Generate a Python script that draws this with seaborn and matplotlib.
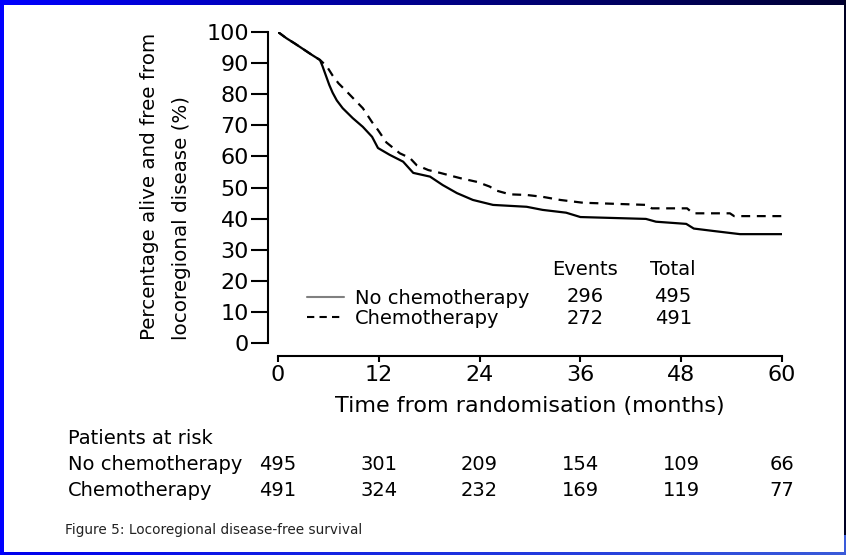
import numpy as np
import pandas as pd
import matplotlib
matplotlib.use("Agg")
import matplotlib.pyplot as plt
import seaborn as sns
from matplotlib.lines import Line2D
from matplotlib.patches import Rectangle
from matplotlib.colors import LinearSegmentedColormap
import matplotlib.transforms as mtransforms

# ---------------- data ----------------
months_no_chemo = [0, 1, 2, 3, 4, 5, 5.3, 5.7, 6.1, 6.5, 7.0, 7.7, 8.9, 10.1, 11.2, 11.9,
                   13.3, 14.9, 16.1, 18.1, 19.6, 21.3, 23.2, 25.6, 29.6, 31.5, 34.3, 36.0,
                   43.8, 45.0, 48.6, 49.5, 51.9, 55.0, 60.0]
surv_no_chemo = [100, 98, 96.3, 94.5, 92.7, 91, 89, 86, 83, 80.5, 78, 75.5, 72.3, 69.5, 66.3, 62.7,
                 60.5, 58.3, 54.7, 53.5, 50.8, 48.2, 46, 44.4, 43.8, 42.8, 41.9, 40.5,
                 39.9, 39, 38.3, 36.8, 36, 35, 35]

months_chemo = [0, 1, 2, 3, 4, 5, 5.8, 6.5, 7.2, 8.2, 9.2, 10.1, 11.2, 11.9, 12.9, 14.5, 15.7,
                16.5, 17.9, 19.3, 20.7, 21.7, 23.7, 25.2, 26.0, 27.6, 29.6, 31.5, 33.6, 36.3,
                43.9, 44.5, 48.7, 49.4, 53.8, 54.3, 60.0]
surv_chemo = [100, 98, 96.3, 94.5, 92.7, 91, 89, 86, 83.5, 80.8, 78, 75.5, 71, 68.5, 64.5, 61, 59.5,
              57.2, 55.6, 54.7, 53.7, 53, 51.8, 50.3, 49, 47.8, 47.6, 47, 46, 45.1,
              44.4, 43.3, 43.3, 41.7, 41.7, 40.8, 40.8]

x_ticks = [0, 12, 24, 36, 48, 60]
y_ticks = [0, 10, 20, 30, 40, 50, 60, 70, 80, 90, 100]

groups = ["No chemotherapy", "Chemotherapy"]
events = [296, 272]
totals = [495, 491]
at_risk_no_chemo = [495, 301, 209, 154, 109, 66]
at_risk_chemo = [491, 324, 232, 169, 119, 77]

# ---------------- style ----------------
sns.set_theme(style="ticks")
plt.rcParams['font.family'] = ['DejaVu Sans']
plt.rcParams['text.color'] = 'black'
plt.rcParams['axes.labelcolor'] = 'black'
plt.rcParams['xtick.color'] = 'black'
plt.rcParams['ytick.color'] = 'black'

W, H = 846, 555
fig = plt.figure(figsize=(W / 100, H / 100), dpi=100)
fig.patch.set_facecolor("white")

ax = fig.add_axes([278 / W, 1 - 343 / H, 504 / W, 311 / H])
ax.set_facecolor("white")

df_nc = pd.DataFrame({"month": months_no_chemo, "surv": surv_no_chemo})
df_c = pd.DataFrame({"month": months_chemo, "surv": surv_chemo})

sns.lineplot(data=df_nc, x="month", y="surv", ax=ax, color="black", lw=1.6,
             sort=False, estimator=None)
sns.lineplot(data=df_c, x="month", y="surv", ax=ax, color="black", lw=1.6,
             sort=False, estimator=None, linestyle=(0, (4, 3)))

ax.set_xlim(0, 60)
ax.set_ylim(0, 100)
ax.set_xticks(x_ticks)
ax.set_yticks(y_ticks)
ax.set_xticklabels([str(t) for t in x_ticks])
ax.set_yticklabels([str(t) for t in y_ticks])

sns.despine(ax=ax, offset={"left": 7, "bottom": 9})
for s in ("left", "bottom"):
    ax.spines[s].set_linewidth(1.5)
    ax.spines[s].set_color("black")
ax.tick_params(axis="y", length=12, width=1.5, pad=2, labelsize=16, colors="black")
ax.tick_params(axis="x", length=4, width=1.5, pad=3, labelsize=16, colors="black")
ax.grid(False)

ax.set_xlabel("Time from randomisation (months)", fontsize=16, labelpad=8, color="black")
ax.set_ylabel("")

# y label (two lines, bottom aligned)
fig.text(149 / W, 1 - 340 / H, "Percentage alive and free from", rotation=90,
         ha="center", va="bottom", fontsize=14.3, color="black")
fig.text(181 / W, 1 - 340 / H, "locoregional disease (%)", rotation=90,
         ha="center", va="bottom", fontsize=14.3, color="black")

# legend
handles = [Line2D([], [], color="#808080", lw=1.5),
           Line2D([], [], color="black", lw=1.5, linestyle=(0, (3.5, 2.5)))]
leg = ax.legend(handles, groups, loc="upper left", bbox_to_anchor=(0.058, 0.175),
                frameon=False, fontsize=14, handlelength=1.9, handletextpad=0.55,
                labelspacing=0.05, borderpad=0, borderaxespad=0)
for t in leg.get_texts():
    t.set_color("black")

col_ev, col_tot = 0.609, 0.784
ax.text(col_ev, 0.235, "Events", transform=ax.transAxes, ha="center", va="center", fontsize=14)
ax.text(col_tot, 0.235, "Total", transform=ax.transAxes, ha="center", va="center", fontsize=14)
for yy, ev, tot in zip([0.148, 0.080], events, totals):
    ax.text(col_ev, yy, str(ev), transform=ax.transAxes, ha="center", va="center", fontsize=14)
    ax.text(col_tot, yy, str(tot), transform=ax.transAxes, ha="center", va="center", fontsize=14)

# at-risk table
fig.text(68 / W, 1 - 438 / H, "Patients at risk", ha="left", va="center", fontsize=14)
fig.text(68 / W, 1 - 465 / H, groups[0], ha="left", va="center", fontsize=14)
fig.text(68 / W, 1 - 491 / H, groups[1], ha="left", va="center", fontsize=14)
trans = mtransforms.blended_transform_factory(ax.transData, fig.transFigure)
for t, a, b in zip(x_ticks, at_risk_no_chemo, at_risk_chemo):
    ax.text(t, 1 - 465 / H, str(a), transform=trans, ha="center", va="center",
            fontsize=14, clip_on=False)
    ax.text(t, 1 - 491 / H, str(b), transform=trans, ha="center", va="center",
            fontsize=14, clip_on=False)

# caption
fig.text(65 / W, 1 - 530 / H, "Figure 5: Locoregional disease-free survival",
         ha="left", va="center", fontsize=9.8, color="#222222")

# ---------------- frame decoration ----------------
top_ax = fig.add_axes([0, 1 - 5 / H, 1, 5 / H])
grad = np.linspace(0, 1, 256).reshape(1, -1)
cmap_top = LinearSegmentedColormap.from_list("top", ["#0000ff", "#00008a", "#000033"])
top_ax.imshow(grad, aspect="auto", cmap=cmap_top)
top_ax.set_axis_off()

fig.patches.append(Rectangle((0, 0), 3.5 / W, 1, transform=fig.transFigure,
                             facecolor="#0000ff", edgecolor="none", zorder=5))
fig.patches.append(Rectangle((1 - 2.5 / W, 20 / H), 2.5 / W, 1, transform=fig.transFigure,
                             facecolor="#000022", edgecolor="none", zorder=5))
fig.patches.append(Rectangle((1 - 2.5 / W, 0), 2.5 / W, 20 / H, transform=fig.transFigure,
                             facecolor="#3a5bd9", edgecolor="none", zorder=5))
bot_ax = fig.add_axes([0, 0, 1, 3 / H])
cmap_bot = LinearSegmentedColormap.from_list("bot", ["#0000ee", "#1a2ee0", "#3a5bd9"])
bot_ax.imshow(grad, aspect="auto", cmap=cmap_bot)
bot_ax.set_axis_off()

fig.savefig("out.png", dpi=100, facecolor="white")
